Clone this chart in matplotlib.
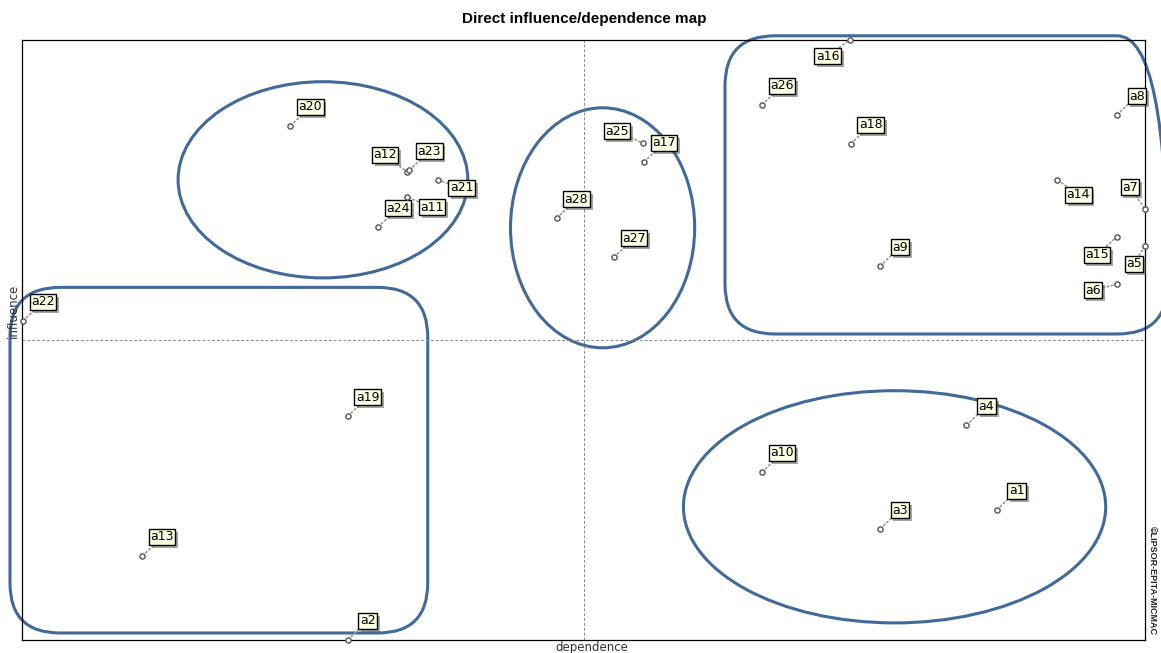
import matplotlib.pyplot as plt
from matplotlib.patches import Ellipse, FancyBboxPatch
from matplotlib.patheffects import withSimplePatchShadow

# variables and their direct dependence / influence scores
variables = ['a1', 'a2', 'a3', 'a4', 'a5', 'a6', 'a7', 'a8', 'a9', 'a10',
             'a11', 'a12', 'a13', 'a14', 'a15', 'a16', 'a17', 'a18', 'a19', 'a20',
             'a21', 'a22', 'a23', 'a24', 'a25', 'a26', 'a27', 'a28']
dependence = [86.8, 29.0, 76.4, 84.1, 100.0, 97.5, 100.0, 97.5, 76.4, 65.9,
              34.3, 34.3, 10.7, 92.2, 97.5, 73.7, 55.4, 73.8, 29.0, 23.9,
              37.0, 0.1, 34.5, 31.7, 55.3, 65.9, 52.7, 47.6]
influence = [21.7, 0.0, 18.5, 35.8, 65.7, 59.3, 71.8, 87.5, 62.3, 28.0,
             73.8, 78.0, 14.0, 76.7, 67.2, 100.0, 79.7, 82.7, 37.3, 85.7,
             76.7, 53.2, 78.3, 68.8, 82.8, 89.2, 63.8, 70.3]

mean_dep = 50
mean_inf = 50

# label offsets in pixels (center of box relative to point), default up-right
offsets = {'a16': (-22, -16), 'a14': (21, -15), 'a7': (-15, 22), 'a15': (-20, -18),
           'a5': (-11, -18), 'a6': (-24, -6), 'a12': (-22, 17), 'a21': (24, -8),
           'a11': (25, -10), 'a25': (-26, 12)}

fig = plt.figure(figsize=(11.61, 6.53), dpi=100)
ax = fig.add_axes([22 / 1161, 13 / 653, 1123 / 1161, 600 / 653])
ax.set_xlim(0, 100)
ax.set_ylim(0, 100)
ax.set_xticks([])
ax.set_yticks([])
for s in ax.spines.values():
    s.set_linewidth(0.9)

ax.axvline(mean_dep, color='#888888', ls=(0, (3, 2)), lw=0.7)
ax.axhline(mean_inf, color='#888888', ls=(0, (3, 2)), lw=0.7)

for name, x, y in zip(variables, dependence, influence):
    dx, dy = offsets.get(name, (20, 19))
    t = ax.annotate(name, (x, y), xytext=(dx, dy), textcoords='offset pixels',
                    ha='center', va='center', fontsize=9, family='DejaVu Sans',
                    color='black', annotation_clip=False, zorder=5,
                    bbox=dict(boxstyle='square,pad=0.12', fc='#ffffe6', ec='black', lw=1),
                    arrowprops=dict(arrowstyle='-', color='#999999', ls=':', lw=1.2,
                                    shrinkA=0, shrinkB=0))
    t.get_bbox_patch().set_path_effects([withSimplePatchShadow(offset=(2, -2), alpha=0.5)])
ax.scatter(dependence, influence, s=14, facecolor='white', edgecolor='#555555',
           linewidth=1, zorder=6, clip_on=False)

# groups
blue = '#41699a'
ax.add_patch(Ellipse((26.8, 76.7), 25.8, 32.7, fill=False, ec=blue, lw=2.2, clip_on=False))
ax.add_patch(Ellipse((51.7, 68.7), 16.4, 40.0, fill=False, ec=blue, lw=2.2, clip_on=False))
ax.add_patch(Ellipse((77.7, 22.2), 37.6, 38.7, fill=False, ec=blue, lw=2.2, clip_on=False))
asp = (50 / 6) / (50 / 11.23)
ax.add_patch(FancyBboxPatch((62.6, 51.0), 39.4, 49.7, boxstyle='round,pad=0,rounding_size=4.45',
                            mutation_aspect=asp, fill=False, ec=blue, lw=2.2, clip_on=False))
ax.add_patch(FancyBboxPatch((-1.07, 1.17), 37.2, 57.6, boxstyle='round,pad=0,rounding_size=4.45',
                            mutation_aspect=asp, fill=False, ec=blue, lw=2.2, clip_on=False))

fig.text(584 / 1161, 1 - 19 / 653, 'Direct influence/dependence map', ha='center', va='center',
         fontsize=11, fontweight='bold', family='Liberation Sans')
fig.text(592 / 1161, 1 - 648 / 653, 'dependence', ha='center', va='center', fontsize=8.5,
         family='DejaVu Sans', color='#333333')
fig.text(13 / 1161, 1 - 311 / 653, 'influence', ha='center', va='center', rotation=90,
         fontsize=8.5, family='DejaVu Sans', color='#333333')
fig.text(1152 / 1161, 1 - 580 / 653, '©LIPSOR-EPITA-MICMAC', ha='center', va='center',
         rotation=270, fontsize=6.5, fontweight='bold', family='Liberation Sans', color='#222222')

fig.savefig('out.png', dpi=100)
